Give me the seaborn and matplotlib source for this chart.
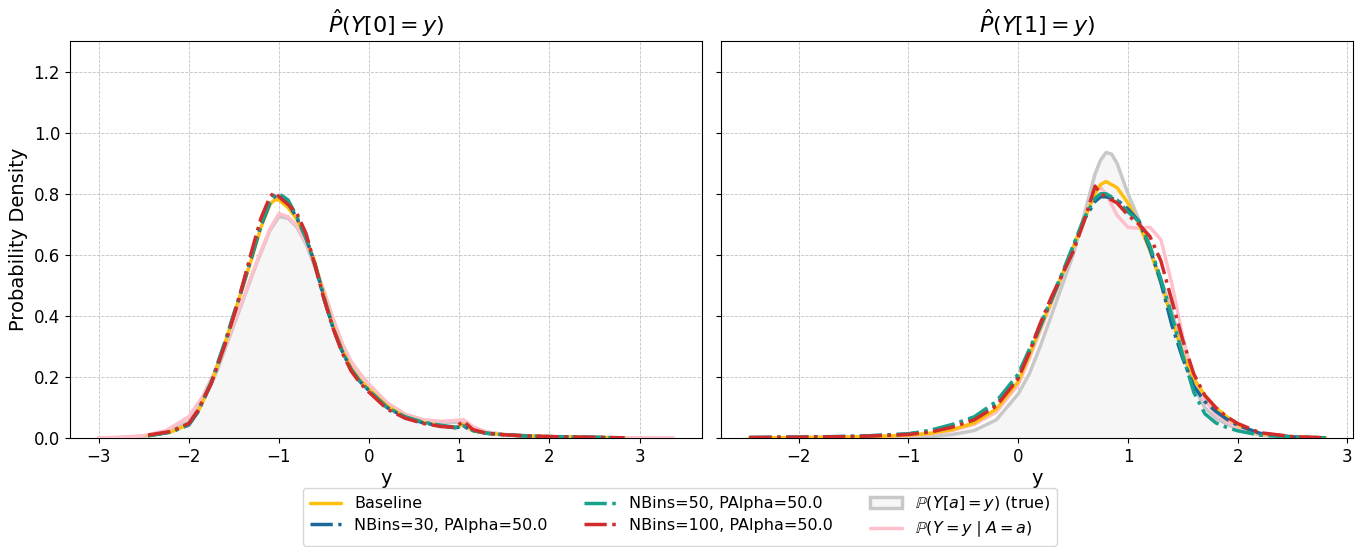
from __future__ import annotations

import matplotlib

matplotlib.use("Agg")
import matplotlib.pyplot as plt
import seaborn as sns
from matplotlib.lines import Line2D
from matplotlib.patches import Patch

# ---- data (density estimates) ----
# left panel: Y[0]
x_left = [-2.45, -2.2, -2.0, -1.9, -1.75, -1.6, -1.45, -1.3, -1.2, -1.1, -1.05, -1.0,
          -0.9, -0.8, -0.7, -0.6, -0.5, -0.4, -0.3, -0.2, -0.1, 0.0, 0.2, 0.4, 0.6,
          0.8, 0.95, 1.05, 1.15, 1.3, 1.5, 1.75, 2.0, 2.4, 2.83]
baseline_left = [0.008, 0.02, 0.045, 0.085, 0.18, 0.31, 0.45, 0.59, 0.69, 0.765, 0.78, 0.78,
                 0.755, 0.715, 0.655, 0.575, 0.465, 0.365, 0.29, 0.23, 0.19, 0.16, 0.105, 0.07, 0.052,
                 0.04, 0.034, 0.045, 0.024, 0.016, 0.011, 0.007, 0.005, 0.003, 0.001]
nb30_left = [0.008, 0.02, 0.043, 0.085, 0.18, 0.31, 0.45, 0.595, 0.695, 0.77, 0.79, 0.795,
             0.77, 0.72, 0.655, 0.57, 0.46, 0.36, 0.285, 0.225, 0.185, 0.155, 0.1, 0.068, 0.05,
             0.04, 0.034, 0.038, 0.025, 0.016, 0.011, 0.007, 0.005, 0.003, 0.001]
nb50_left = [0.008, 0.02, 0.045, 0.09, 0.185, 0.315, 0.455, 0.6, 0.7, 0.775, 0.795, 0.80,
             0.78, 0.725, 0.655, 0.565, 0.455, 0.36, 0.285, 0.225, 0.185, 0.155, 0.1, 0.07, 0.052,
             0.042, 0.036, 0.04, 0.025, 0.016, 0.011, 0.007, 0.005, 0.003, 0.001]
nb100_left = [0.01, 0.022, 0.048, 0.09, 0.18, 0.305, 0.45, 0.615, 0.72, 0.79, 0.805, 0.79,
              0.765, 0.735, 0.67, 0.565, 0.455, 0.36, 0.28, 0.22, 0.18, 0.15, 0.095, 0.065, 0.048,
              0.038, 0.036, 0.055, 0.028, 0.016, 0.011, 0.007, 0.005, 0.003, 0.001]

x_left_ref = [-3.0, -2.75, -2.5, -2.25, -2.0, -1.85, -1.7, -1.55, -1.4, -1.25, -1.1, -1.0,
              -0.9, -0.8, -0.7, -0.6, -0.5, -0.4, -0.3, -0.2, -0.1, 0.0, 0.2, 0.4, 0.6,
              0.8, 0.95, 1.05, 1.15, 1.3, 1.5, 1.75, 2.0, 2.5, 3.0, 3.37]
true_left = [0.0005, 0.002, 0.006, 0.018, 0.055, 0.12, 0.21, 0.33, 0.45, 0.57, 0.68, 0.725,
             0.72, 0.69, 0.635, 0.56, 0.48, 0.39, 0.31, 0.25, 0.21, 0.175, 0.115, 0.078, 0.06,
             0.052, 0.052, 0.055, 0.035, 0.02, 0.012, 0.008, 0.005, 0.002, 0.001, 0.0]
cond_left = [0.0008, 0.003, 0.008, 0.025, 0.07, 0.135, 0.225, 0.34, 0.455, 0.575, 0.685, 0.735,
             0.725, 0.695, 0.64, 0.565, 0.48, 0.39, 0.31, 0.25, 0.21, 0.175, 0.115, 0.078, 0.06,
             0.055, 0.058, 0.06, 0.038, 0.02, 0.012, 0.008, 0.005, 0.002, 0.001, 0.0]

# right panel: Y[1]
x_right = [-2.45, -2.0, -1.5, -1.2, -1.0, -0.8, -0.6, -0.4, -0.2, 0.0, 0.1, 0.2, 0.3, 0.4,
           0.5, 0.6, 0.7, 0.75, 0.8, 0.9, 1.0, 1.1, 1.2, 1.3, 1.4, 1.5, 1.6, 1.7, 1.8, 1.9,
           2.0, 2.2, 2.5, 2.8]
baseline_right = [0.001, 0.002, 0.004, 0.007, 0.01, 0.016, 0.028, 0.05, 0.095, 0.185, 0.27, 0.36,
                  0.445, 0.535, 0.625, 0.715, 0.80, 0.83, 0.84, 0.82, 0.77, 0.70, 0.615, 0.51,
                  0.39, 0.275, 0.195, 0.14, 0.10, 0.07, 0.043, 0.015, 0.004, 0.001]
nb30_right = [0.002, 0.003, 0.006, 0.01, 0.014, 0.024, 0.042, 0.065, 0.11, 0.2, 0.28, 0.365,
              0.45, 0.535, 0.625, 0.715, 0.775, 0.79, 0.79, 0.78, 0.75, 0.71, 0.62, 0.51,
              0.37, 0.26, 0.17, 0.12, 0.088, 0.062, 0.042, 0.016, 0.004, 0.001]
nb50_right = [0.002, 0.003, 0.006, 0.01, 0.014, 0.026, 0.045, 0.07, 0.12, 0.21, 0.29, 0.37,
              0.455, 0.54, 0.63, 0.72, 0.785, 0.80, 0.80, 0.78, 0.74, 0.71, 0.63, 0.52,
              0.40, 0.27, 0.15, 0.08, 0.05, 0.035, 0.024, 0.01, 0.003, 0.001]
nb100_right = [0.002, 0.003, 0.005, 0.009, 0.012, 0.02, 0.036, 0.06, 0.105, 0.195, 0.28, 0.375,
               0.46, 0.535, 0.61, 0.71, 0.825, 0.80, 0.79, 0.77, 0.73, 0.70, 0.66, 0.58,
               0.45, 0.32, 0.21, 0.14, 0.10, 0.07, 0.048, 0.018, 0.005, 0.001]
cond_right = [0.001, 0.002, 0.004, 0.006, 0.008, 0.014, 0.025, 0.045, 0.085, 0.175, 0.26, 0.35,
              0.44, 0.53, 0.62, 0.72, 0.81, 0.82, 0.80, 0.73, 0.69, 0.687, 0.69, 0.65,
              0.505, 0.33, 0.19, 0.125, 0.078, 0.055, 0.035, 0.012, 0.003, 0.001]

x_right_ref = [-1.5, -1.0, -0.8, -0.6, -0.4, -0.2, 0.0, 0.1, 0.2, 0.3, 0.4, 0.5, 0.6, 0.7,
               0.75, 0.8, 0.85, 0.9, 1.0, 1.1, 1.2, 1.3, 1.4, 1.5, 1.6, 1.7, 1.8, 1.9, 2.0,
               2.2, 2.5, 2.8]
true_right = [0.0, 0.002, 0.005, 0.012, 0.025, 0.06, 0.145, 0.21, 0.30, 0.40, 0.50, 0.60, 0.73,
              0.865, 0.91, 0.935, 0.93, 0.90, 0.80, 0.715, 0.615, 0.52, 0.415, 0.28, 0.17,
              0.10, 0.065, 0.046, 0.03, 0.01, 0.002, 0.0]

model_labels = ["Baseline", "NBins=30, PAlpha=50.0", "NBins=50, PAlpha=50.0", "NBins=100, PAlpha=50.0"]
true_label = r"$\mathbb{P}(Y[a] = y)$ (true)"
cond_label = r"$\mathbb{P}(Y = y \mid A = a)$"
titles = [r"$\hat{P}(Y[0] = y)$", r"$\hat{P}(Y[1] = y)$"]

COLORS = ["#FFBF0F", "#1A6898", "#17A28C", "#D22B2B"]
STYLES = ["-", "-.", "-.", "-."]
TRUE_EDGE = "#C8C8C8"
TRUE_FILL = "#F6F6F6"
COND_COLOR = "#FFBFCB"


def main() -> None:
    sns.set_style("ticks")
    plt.rcParams.update({
        "font.family": ["DejaVu Sans"],
        "xtick.labelsize": 12,
        "ytick.labelsize": 12,
        "axes.labelsize": 14,
        "axes.titlesize": 16,
        "axes.edgecolor": "black",
        "text.color": "black",
        "axes.labelcolor": "black",
        "xtick.color": "black",
        "ytick.color": "black",
    })

    fig, axes = plt.subplots(1, 2, figsize=(13.68, 5.47), dpi=100, sharey=True)
    fig.subplots_adjust(left=0.051, right=0.989, bottom=0.199, top=0.925, wspace=0.03)

    panels = [
        (x_left, [baseline_left, nb30_left, nb50_left, nb100_left], x_left_ref, true_left,
         x_left_ref, cond_left, (-3.32, 3.69)),
        (x_right, [baseline_right, nb30_right, nb50_right, nb100_right], x_right_ref, true_right,
         x_right, cond_right, (-2.71, 3.05)),
    ]

    for i, (ax, (xs, model_ys, x_true, ytrue, x_cond, ycond, xlim)) in enumerate(zip(axes, panels)):
        ax.fill_between(x_true, ytrue, 0, color=TRUE_FILL, linewidth=0, zorder=1)
        sns.lineplot(x=x_true, y=ytrue, ax=ax, color=TRUE_EDGE, linewidth=2.5, zorder=2)
        sns.lineplot(x=x_cond, y=ycond, ax=ax, color=COND_COLOR, linewidth=2.5, zorder=3)
        for ys, col, ls in zip(model_ys, COLORS, STYLES):
            sns.lineplot(x=xs, y=ys, ax=ax, color=col, linestyle=ls, linewidth=2.5, zorder=4)

        ax.set_xlim(*xlim)
        ax.set_ylim(0, 1.3)
        ax.set_title(titles[i])
        ax.set_xlabel("y", labelpad=2)
        ax.grid(True, linestyle="--", linewidth=0.6, color="#BBBBBB", alpha=0.9)
        ax.set_axisbelow(True)
    axes[0].set_ylabel("Probability Density")
    axes[1].set_ylabel("")

    handles = [Line2D([], [], color=c, linestyle=s, linewidth=2.5) for c, s in zip(COLORS, STYLES)]
    handles.append(Patch(facecolor=TRUE_FILL, edgecolor=TRUE_EDGE, linewidth=2.5))
    handles.append(Line2D([], [], color=COND_COLOR, linewidth=2.5))
    labels = model_labels + [true_label, cond_label]
    fig.legend(handles, labels, loc="lower center", bbox_to_anchor=(0.497, -0.012), ncol=3,
               fontsize=11.5, frameon=True, columnspacing=2.3, labelspacing=0.4)

    fig.savefig("out.png", dpi=100)
    plt.close(fig)


if __name__ == "__main__":
    main()
